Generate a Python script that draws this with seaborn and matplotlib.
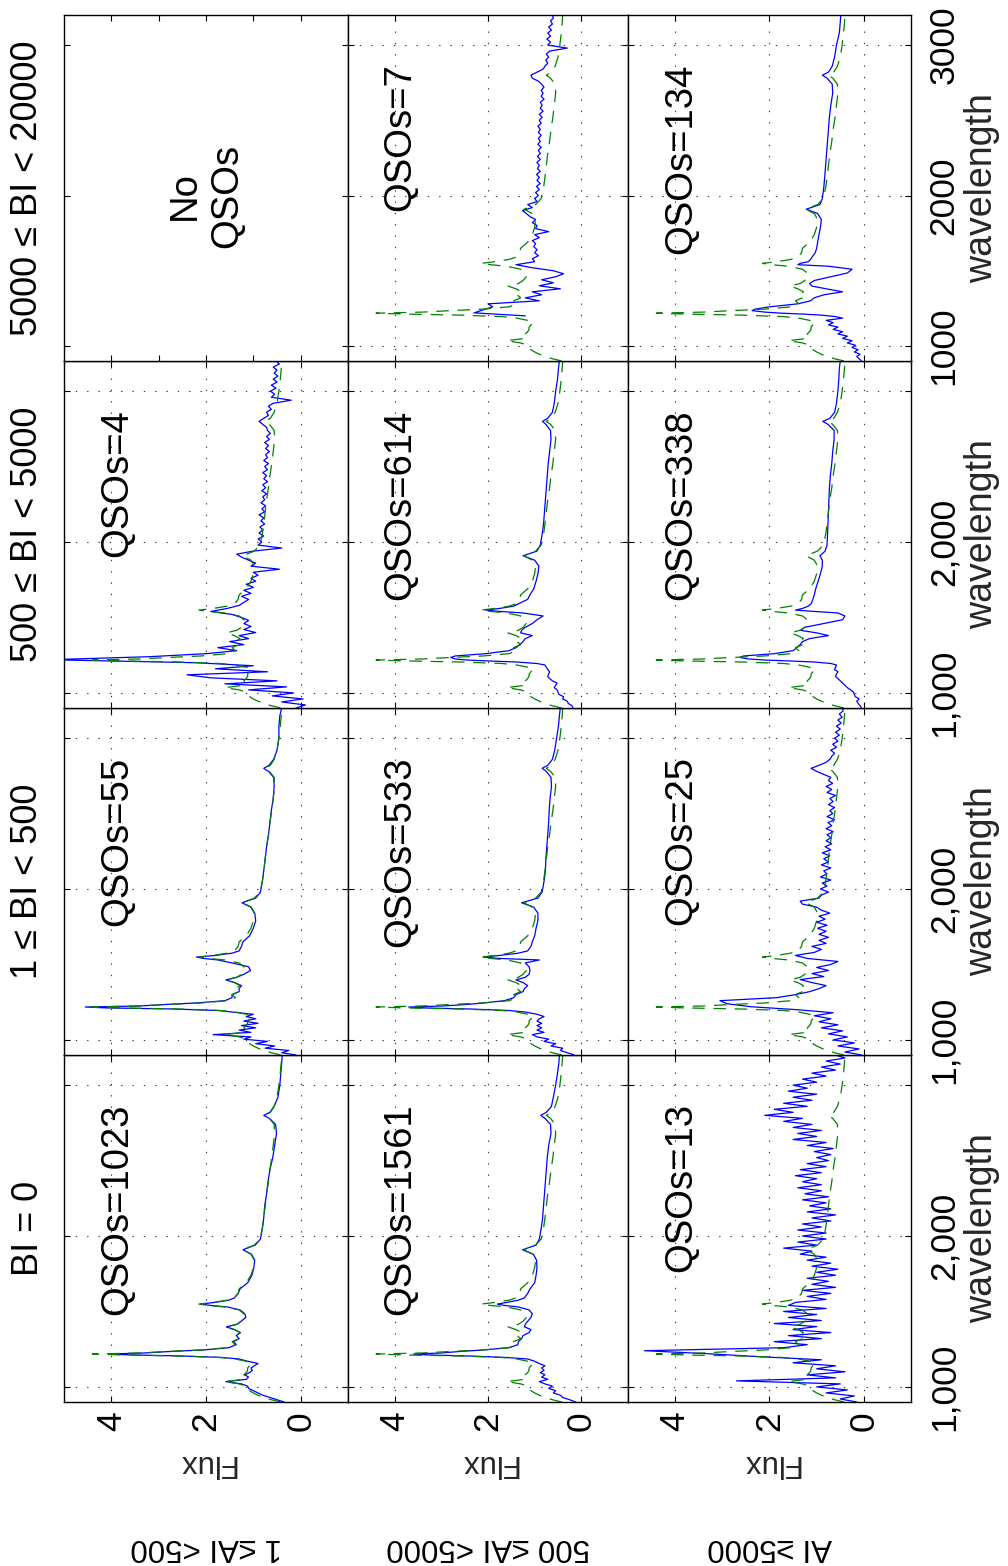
import numpy as np
import matplotlib
matplotlib.use("Agg")
import matplotlib.pyplot as plt
import seaborn as sns

# ---------------- data ----------------
WAVE_S = [900, 915, 930, 945, 960, 975, 990, 1005, 1020, 1035,
          1050, 1065, 1080, 1095, 1110, 1125, 1140, 1155, 1170, 1185,
          1195, 1205, 1212, 1218, 1225, 1235, 1245, 1260, 1280, 1300,
          1320, 1340, 1360, 1380, 1398, 1415, 1435, 1460, 1485, 1510,
          1530, 1540, 1549, 1560, 1575, 1590, 1620, 1650, 1690, 1740,
          1790, 1840, 1880, 1909, 1940, 1980, 2050, 2120, 2200, 2280,
          2360, 2440, 2520, 2600, 2680, 2740, 2780, 2800, 2820, 2860,
          2920, 3000, 3080, 3150, 3200]

WAVE_N = [900, 920, 940, 960, 980, 1000, 1020, 1040, 1060, 1080,
          1100, 1120, 1140, 1160, 1180, 1200, 1220, 1240, 1260, 1280,
          1300, 1320, 1340, 1360, 1380, 1400, 1420, 1440, 1460, 1480,
          1500, 1520, 1540, 1560, 1580, 1600, 1620, 1640, 1660, 1680,
          1700, 1720, 1740, 1760, 1780, 1800, 1820, 1840, 1860, 1880,
          1900, 1920, 1940, 1960, 1980, 2000, 2020, 2040, 2060, 2080,
          2100, 2120, 2140, 2160, 2180, 2200, 2220, 2240, 2260, 2280,
          2300, 2320, 2340, 2360, 2380, 2400, 2420, 2440, 2460, 2480,
          2500, 2520, 2540, 2560, 2580, 2600, 2620, 2640, 2660, 2680,
          2700, 2720, 2740, 2760, 2780, 2800, 2820, 2840, 2860, 2880,
          2900, 2920, 2940, 2960, 2980, 3000, 3020, 3040, 3060, 3080,
          3100, 3120, 3140, 3160, 3180, 3200]

# reference composite (green dashed)
FLUX_REF = [0.42, 0.62, 0.78, 0.90, 1.00, 1.08, 1.12, 1.15, 1.30, 1.60,
            1.22, 1.15, 1.20, 1.15, 1.12, 1.12, 1.08, 1.02, 1.15, 1.38,
            1.70, 2.60, 3.80, 4.40, 3.40, 2.80, 2.10, 1.55, 1.38, 1.45,
            1.30, 1.38, 1.28, 1.40, 1.57, 1.35, 1.25, 1.18, 1.20, 1.30,
            1.60, 1.95, 2.15, 1.85, 1.55, 1.40, 1.32, 1.30, 1.15, 1.05,
            1.00, 0.98, 1.05, 1.23, 0.98, 0.86, 0.81, 0.78, 0.75, 0.72,
            0.68, 0.65, 0.61, 0.58, 0.55, 0.56, 0.66, 0.75, 0.64, 0.56,
            0.50, 0.46, 0.43, 0.41, 0.40]

FLUX_1023 = [0.35, 0.50, 0.65, 0.80, 0.90, 1.00, 1.10, 1.12, 1.25, 1.58,
             1.15, 1.10, 1.18, 1.08, 1.02, 1.05, 0.98, 0.90, 1.12, 1.30,
             1.65, 2.50, 3.60, 4.05, 3.30, 2.75, 2.05, 1.52, 1.36, 1.42,
             1.30, 1.36, 1.27, 1.40, 1.57, 1.35, 1.26, 1.16, 1.18, 1.28,
             1.55, 1.90, 2.12, 1.82, 1.52, 1.40, 1.32, 1.28, 1.12, 1.03,
             0.99, 0.97, 1.04, 1.22, 0.96, 0.85, 0.81, 0.78, 0.76, 0.72,
             0.69, 0.65, 0.59, 0.55, 0.51, 0.53, 0.66, 0.78, 0.65, 0.56,
             0.48, 0.44, 0.42, 0.40, 0.39]

FLUX_55 = [0.10, 0.40, 0.25, 0.75, 0.55, 0.95, 0.70, 1.20, 1.05, 1.85,
           1.05, 1.30, 0.95, 1.25, 0.90, 1.20, 0.95, 1.15, 1.00, 1.45,
           1.75, 2.70, 4.10, 4.55, 3.40, 2.85, 2.20, 1.60, 1.45, 1.45,
           1.30, 1.30, 1.25, 1.40, 1.58, 1.35, 1.20, 1.06, 1.10, 1.45,
           1.75, 2.05, 2.20, 1.80, 1.45, 1.30, 1.25, 1.22, 1.08, 1.00,
           0.95, 0.97, 1.05, 1.24, 0.95, 0.85, 0.81, 0.78, 0.75, 0.72,
           0.68, 0.65, 0.62, 0.58, 0.56, 0.57, 0.68, 0.78, 0.67, 0.57,
           0.50, 0.46, 0.46, 0.44, 0.40]

FLUX_1561 = [0.12, 0.25, 0.40, 0.45, 0.60, 0.55, 0.70, 0.62, 0.78, 0.90,
             0.72, 0.85, 0.78, 0.88, 0.80, 0.85, 0.78, 0.90, 1.00, 1.15,
             1.60, 2.40, 3.30, 3.60, 3.00, 2.60, 2.10, 1.55, 1.36, 1.35,
             1.28, 1.25, 1.12, 1.08, 1.22, 1.20, 1.15, 1.08, 1.05, 1.12,
             1.35, 1.65, 1.80, 1.60, 1.35, 1.22, 1.15, 1.10, 1.00, 0.97,
             0.95, 0.96, 1.03, 1.26, 0.97, 0.90, 0.86, 0.83, 0.81, 0.79,
             0.77, 0.75, 0.73, 0.70, 0.65, 0.66, 0.78, 0.87, 0.75, 0.64,
             0.60, 0.55, 0.51, 0.48, 0.47]

FLUX_533 = [0.15, 0.30, 0.45, 0.40, 0.65, 0.55, 0.80, 0.70, 0.95, 1.05,
            0.80, 0.95, 0.85, 0.95, 0.85, 0.95, 0.90, 0.80, 0.95, 1.20,
            1.55, 2.40, 3.40, 3.70, 2.95, 2.45, 2.10, 1.65, 1.45, 1.40,
            1.25, 1.22, 1.15, 1.25, 1.40, 1.20, 1.12, 1.10, 1.12, 1.20,
            0.90, 1.75, 2.10, 1.75, 1.35, 1.15, 1.08, 1.05, 1.00, 0.97,
            0.93, 0.93, 1.02, 1.28, 0.93, 0.84, 0.80, 0.77, 0.76, 0.74,
            0.72, 0.70, 0.69, 0.67, 0.64, 0.65, 0.75, 0.84, 0.72, 0.62,
            0.57, 0.53, 0.49, 0.47, 0.45]

FLUX_614 = [0.18, 0.20, 0.28, 0.30, 0.40, 0.38, 0.48, 0.50, 0.52, 0.58,
            0.55, 0.52, 0.62, 0.68, 0.72, 0.70, 0.68, 0.72, 0.75, 0.78,
            0.95, 1.40, 2.00, 2.45, 2.70, 2.80, 2.70, 2.05, 1.55, 1.40,
            1.32, 1.25, 1.20, 1.05, 1.30, 1.28, 1.20, 1.05, 0.95, 0.82,
            1.25, 1.75, 2.05, 1.75, 1.45, 1.35, 1.15, 1.10, 1.02, 0.97,
            0.93, 0.91, 1.00, 1.25, 0.95, 0.88, 0.84, 0.81, 0.79, 0.77,
            0.75, 0.73, 0.71, 0.68, 0.65, 0.66, 0.76, 0.83, 0.72, 0.62,
            0.58, 0.55, 0.51, 0.49, 0.47]

FLUX_338 = [0.05, 0.08, 0.12, 0.15, 0.10, 0.18, 0.20, 0.22, 0.28, 0.35,
            0.40, 0.45, 0.50, 0.55, 0.60, 0.58, 0.55, 0.62, 0.60, 0.58,
            0.70, 1.05, 1.60, 2.10, 2.45, 2.62, 2.55, 1.90, 1.50, 1.42,
            1.35, 1.30, 1.15, 0.75, 1.00, 1.35, 1.25, 0.85, 0.45, 0.40,
            0.55, 1.05, 1.45, 1.30, 1.18, 1.12, 1.08, 1.05, 1.02, 0.97,
            0.92, 0.88, 0.88, 0.93, 0.82, 0.78, 0.77, 0.76, 0.75, 0.74,
            0.73, 0.71, 0.68, 0.66, 0.63, 0.63, 0.76, 0.87, 0.72, 0.62,
            0.58, 0.55, 0.53, 0.52, 0.50]

FLUX_134 = [0.05, 0.10, 0.15, 0.08, 0.20, 0.12, 0.25, 0.18, 0.35, 0.25,
            0.45, 0.35, 0.55, 0.45, 0.65, 0.55, 0.75, 0.65, 0.80, 0.45,
            0.60, 0.90, 1.30, 1.75, 2.10, 2.37, 2.30, 2.00, 1.40, 1.13,
            1.05, 0.85, 0.45, 0.80, 1.10, 1.15, 1.05, 0.70, 0.35, 0.25,
            0.75, 1.40, 1.35, 1.18, 1.13, 1.10, 1.03, 1.00, 0.98, 0.95,
            0.92, 0.90, 0.98, 1.22, 0.93, 0.88, 0.85, 0.83, 0.81, 0.79,
            0.77, 0.75, 0.73, 0.70, 0.66, 0.67, 0.78, 0.88, 0.75, 0.67,
            0.62, 0.58, 0.52, 0.50, 0.49]

FLUX_13 = [0.15, 0.50, 0.20, 0.80, 0.35, 1.00, 0.50, 2.70, 0.60, 1.20,
           0.40, 1.00, 0.60, 1.50, 0.90, 2.20, 3.30, 4.65, 1.70, 1.20,
           1.90, 0.90, 1.60, 0.70, 1.50, 1.00, 1.90, 0.90, 1.60, 1.00,
           1.70, 0.80, 1.60, 1.45, 0.80, 1.20, 0.70, 1.30, 0.60, 1.10,
           0.75, 1.20, 0.60, 1.00, 0.55, 1.10, 0.70, 1.20, 0.80, 1.35,
           1.10, 1.70, 1.00, 1.40, 0.80, 1.30, 0.80, 1.40, 0.90, 1.30,
           0.70, 1.10, 0.60, 1.20, 0.70, 1.15, 0.80, 1.30, 0.75, 1.25,
           0.90, 1.40, 0.90, 1.30, 1.00, 1.45, 0.90, 1.35, 0.80, 1.20,
           0.75, 1.00, 0.70, 1.05, 0.65, 1.20, 0.80, 1.50, 1.00, 1.40,
           0.90, 1.50, 1.10, 1.70, 1.30, 2.10, 1.50, 1.90, 1.20, 1.70,
           1.10, 1.50, 1.00, 1.60, 1.20, 1.50, 1.00, 1.30, 0.80, 1.10,
           0.60, 0.90, 0.50, 0.80, 0.40, 0.60]

FLUX_25 = [0.05, 0.40, 0.10, 0.55, 0.20, 0.65, 0.35, 0.75, 0.45, 0.90,
           0.55, 0.95, 0.70, 1.05, 0.65, 1.40, 2.40, 2.90, 3.05, 1.85,
           1.45, 1.15, 0.95, 0.80, 1.10, 1.35, 0.85, 1.10, 0.75, 1.00,
           0.70, 0.55, 1.20, 1.45, 1.05, 0.90, 1.10, 0.80, 0.95, 0.75,
           0.95, 0.80, 0.98, 0.78, 1.00, 0.82, 0.95, 0.72, 0.90, 1.00,
           1.30, 1.35, 0.95, 0.90, 0.75, 0.92, 0.78, 0.88, 0.70, 0.92,
           0.78, 0.85, 0.70, 0.90, 0.75, 0.85, 0.72, 0.88, 0.70, 0.82,
           0.68, 0.80, 0.70, 0.78, 0.65, 0.80, 0.68, 0.76, 0.62, 0.78,
           0.66, 0.72, 0.62, 0.75, 0.65, 0.72, 0.60, 0.78, 0.68, 0.80,
           0.66, 0.75, 0.70, 0.85, 1.00, 1.12, 0.95, 0.80, 0.72, 0.68,
           0.62, 0.70, 0.58, 0.66, 0.55, 0.62, 0.52, 0.60, 0.50, 0.58,
           0.48, 0.55, 0.46, 0.52, 0.44, 0.45]

FLUX_4 = [0.10, -0.10, 0.40, -0.05, 0.60, 0.15, 1.10, 0.30, 1.60, 0.50,
          1.90, 2.40, 0.70, 1.80, 1.00, 2.20, 5.30, 3.20, 2.00, 1.35,
          1.75, 1.20, 1.50, 1.10, 1.30, 0.95, 1.20, 1.05, 1.20, 1.10,
          1.25, 1.45, 1.90, 1.55, 1.30, 1.20, 1.10, 1.25, 1.05, 1.20,
          1.00, 1.15, 0.95, 1.05, 0.90, 1.00, 0.45, 1.05, 0.95, 1.10,
          1.25, 1.35, 1.00, 0.40, 0.90, 0.82, 0.90, 0.78, 0.88, 0.80,
          0.86, 0.76, 0.84, 0.78, 0.88, 0.76, 0.82, 0.74, 0.84, 0.76,
          0.80, 0.72, 0.82, 0.74, 0.80, 0.70, 0.78, 0.72, 0.80, 0.70,
          0.76, 0.68, 0.78, 0.70, 0.74, 0.66, 0.74, 0.68, 0.76, 0.66,
          0.72, 0.64, 0.70, 0.72, 0.80, 0.88, 0.78, 0.68, 0.72, 0.62,
          0.68, 0.58, 0.20, 0.62, 0.55, 0.64, 0.52, 0.62, 0.50, 0.58,
          0.48, 0.56, 0.50, 0.58, 0.45, 0.52]

# QSOs=7 composite only covers wavelengths from 1200 upward
FLUX_7 = [1.20, 2.30, 2.10, 1.90, 2.00, 0.90, 1.20, 0.85, 1.05, 0.45,
          0.90, 0.60, 0.85, 0.55, 0.38, 0.60, 1.05, 1.40, 1.00, 1.05,
          0.92, 1.00, 0.95, 1.02, 0.98, 1.05, 0.90, 1.00, 0.70, 0.98,
          0.95, 1.05, 0.98, 1.10, 1.18, 1.26, 1.05, 1.15, 0.95, 1.00,
          0.92, 0.98, 0.90, 0.96, 0.88, 0.95, 0.90, 0.96, 0.88, 0.94,
          0.90, 0.95, 0.88, 0.94, 0.88, 0.92, 0.86, 0.93, 0.88, 0.92,
          0.86, 0.92, 0.88, 0.93, 0.86, 0.90, 0.84, 0.90, 0.82, 0.88,
          0.84, 0.88, 0.80, 0.86, 0.82, 0.86, 0.80, 0.85, 0.92, 1.05,
          1.08, 0.95, 0.82, 0.78, 0.72, 0.76, 0.70, 0.75, 0.68, 0.30,
          0.72, 0.66, 0.74, 0.66, 0.72, 0.64, 0.70, 0.62, 0.66, 0.60,
          0.62]
WAVE_7 = WAVE_N[15:]

BI_TITLES = ["BI = 0", "1 \u2264 BI < 500", "500 \u2264 BI < 5000", "5000 \u2264 BI < 20000"]
AI_LABELS = ["1 \u2264AI <500", "500 \u2264AI <5000", "AI \u22655000"]
QSO_COUNTS = {(0, 0): 1023, (0, 1): 55, (0, 2): 4,
              (1, 0): 1561, (1, 1): 533, (1, 2): 614, (1, 3): 7,
              (2, 0): 13, (2, 1): 25, (2, 2): 338, (2, 3): 134}
SPECTRA = {(0, 0): (WAVE_S, FLUX_1023), (0, 1): (WAVE_S, FLUX_55), (0, 2): (WAVE_N, FLUX_4),
           (1, 0): (WAVE_S, FLUX_1561), (1, 1): (WAVE_S, FLUX_533), (1, 2): (WAVE_S, FLUX_614),
           (1, 3): (WAVE_7, FLUX_7),
           (2, 0): (WAVE_N, FLUX_13), (2, 1): (WAVE_N, FLUX_25), (2, 2): (WAVE_S, FLUX_338),
           (2, 3): (WAVE_S, FLUX_134)}

for k, (w, f) in SPECTRA.items():
    assert len(w) == len(f), (k, len(w), len(f))
assert len(WAVE_S) == len(FLUX_REF)

# ---------------- style ----------------
sns.set_style("ticks")
plt.rcParams["font.family"] = ["Liberation Sans", "DejaVu Sans"]
plt.rcParams["axes.edgecolor"] = "black"
plt.rcParams["axes.linewidth"] = 1.0
plt.rcParams["xtick.color"] = "black"
plt.rcParams["ytick.color"] = "black"
plt.rcParams["text.color"] = "black"

W, H = 1008, 1566
fig = plt.figure(figsize=(W / 100, H / 100), dpi=100)
fig.patch.set_facecolor("white")

col_x = [64, 348, 628, 911]
row_y = {0: (1055, 1402), 1: (708, 1055), 2: (361, 708), 3: (15, 361)}

BLUE = (0, 0, 1)
GREEN = (0, 0.5, 0)

for ai in range(3):
    for bi in range(4):
        x0, x1 = col_x[ai], col_x[ai + 1]
        top, bot = row_y[bi]
        ax = fig.add_axes([x0 / W, 1 - bot / H, (x1 - x0) / W, (bot - top) / H])
        ax.set_facecolor("white")
        empty = (ai, bi) not in SPECTRA
        if not empty:
            w, f = SPECTRA[(ai, bi)]
            sns.lineplot(x=f, y=w, ax=ax, sort=False, estimator=None,
                         color=BLUE, lw=0.9)
            sns.lineplot(x=FLUX_REF, y=WAVE_S, ax=ax, sort=False, estimator=None,
                         color=GREEN, lw=0.9, linestyle=(0, (10, 7)))
            ax.text(3.88, 2880, f"QSOs={QSO_COUNTS[(ai, bi)]}", rotation=90,
                    ha="center", va="top", fontsize=27.5)
            ax.set_xticks([0, 2, 4])
            ax.grid(True, linestyle=(0, (1.2, 9)), color="black", lw=0.8, alpha=0.8)
        else:
            ax.text(2.0, 2000, "No\nQSOs", rotation=90, ha="center", va="center",
                    multialignment="center", fontsize=27.5)
            ax.set_xticks([0, 1, 2, 3, 4])
            ax.grid(False)
        ax.set_xlim(5, -1)
        ax.set_ylim(900, 3200)
        ax.set_yticks([1000, 2000, 3000])
        ax.tick_params(direction="in", top=True, bottom=True, left=True, right=True,
                       length=4, width=0.8,
                       labelbottom=(bi == 0), labeltop=False,
                       labelleft=False, labelright=(ai == 2))
        ax.set_xlabel("")
        ax.set_ylabel("")
        if bi == 0:
            ax.set_xticklabels(["0", "2", "4"], rotation=90, fontsize=25.5)
            ax.tick_params(axis="x", pad=7)
            ax.set_xlabel("Flux", fontsize=22.5)
            ax.xaxis.label.set(rotation=180, va="center", ha="center")
            ax.xaxis.set_label_coords(0.5, (1402 - 1463) / 347)
        else:
            ax.set_xticklabels([])
        if ai == 2:
            if bi == 3:
                ylabels = ["1000", "2000", "3000"]
            else:
                ylabels = ["1,000", "2,000", ""]
            ax.set_yticklabels(ylabels, rotation=90, fontsize=25.5, va="center")
            ax.tick_params(axis="y", pad=12)
            ax.yaxis.set_label_position("right")
            ax.set_ylabel("wavelength", fontsize=27)
            ax.yaxis.label.set(rotation=90, va="center", ha="center")
            ax.yaxis.set_label_coords((982 - 628) / 283, 0.5)
        else:
            ax.set_yticklabels([])
        for s in ax.spines.values():
            s.set_visible(True)
            s.set_color("black")
            s.set_linewidth(1.0)

# BI column titles (left side, reading upward)
for bi in range(4):
    top, bot = row_y[bi]
    yc = (top + bot) / 2
    fig.text(28 / W, 1 - yc / H, BI_TITLES[bi], rotation=90, ha="center", va="center",
             fontsize=26)

# AI row labels (bottom, upside down)
for ai in range(3):
    xc = (col_x[ai] + col_x[ai + 1]) / 2
    fig.text(xc / W, 1 - 1547 / H, AI_LABELS[ai], rotation=180, ha="center", va="center",
             fontsize=22.5)

fig.savefig("out.png", dpi=100, facecolor="white")
